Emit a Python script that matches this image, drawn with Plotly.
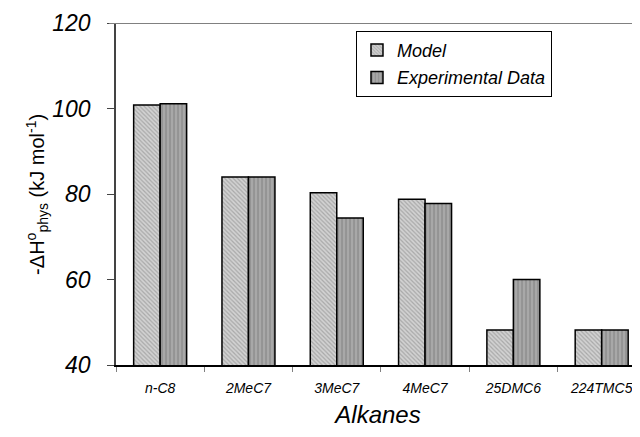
import plotly.graph_objects as go

categories = ["n-C8", "2MeC7", "3MeC7", "4MeC7", "25DMC6", "224TMC5"]
model_values = [100.8, 84.0, 80.3, 78.8, 48.2, 48.2]
experimental_values = [101.1, 84.0, 74.4, 77.8, 60.0, 48.2]
y_ticks = [40, 60, 80, 100, 120]

FONT = "Liberation Sans, Arial, sans-serif"

fig = go.Figure()
fig.add_trace(go.Bar(
    x=categories, y=model_values, name="Model", legendgroup="m",
    marker=dict(color="#d2d2d2", line=dict(color="black", width=1.5),
                pattern=dict(shape="\\", fgcolor="#808080", size=3, solidity=0.4)),
))
fig.add_trace(go.Bar(
    x=categories, y=experimental_values, name="Experimental Data", legendgroup="e",
    marker=dict(color="#a8a8a8", line=dict(color="black", width=1.5),
                pattern=dict(shape="|", fgcolor="#707070", size=4, solidity=0.35)),
))

fig.update_layout(
    width=632, height=429,
    margin=dict(l=108, r=0, t=15, b=72),
    plot_bgcolor="white", paper_bgcolor="white",
    barmode="group", bargap=0.4, bargroupgap=0,
    font=dict(family=FONT, color="black"),
    showlegend=True,
    legend=dict(x=0.458, y=0.977, xanchor="left", yanchor="top",
                bgcolor="white", bordercolor="black", borderwidth=1,
                font=dict(family=FONT, size=18, style="italic"), tracegroupgap=1,
                traceorder="grouped"),
    xaxis=dict(range=[-0.5, 5.434], showline=True, linecolor="black", linewidth=1.5,
               ticks="outside", tickson="boundaries", ticklen=5, tickcolor="gray",
               tickfont=dict(family=FONT, size=14, style="italic"), ticklabelstandoff=9,
               title=dict(text="Alkanes", font=dict(family=FONT, size=24, style="italic"), standoff=12),
               showgrid=False, fixedrange=True),
    yaxis=dict(range=[40, 120], tickvals=y_ticks, showline=True, linecolor="#444",
               linewidth=1.5, ticks="outside", ticklen=7, tickcolor="#444",
               tickfont=dict(family=FONT, size=23, style="italic"), ticklabelstandoff=12,
               showgrid=False, zeroline=False),
    annotations=[dict(
        text="-ΔH<sup>o</sup><sub>phys</sub> (kJ mol<sup>-1</sup>)",
        xref="paper", yref="paper", x=-0.151, y=0.5, textangle=-90,
        xanchor="center", yanchor="middle", showarrow=False,
        font=dict(family=FONT, size=20))],
    shapes=[dict(type="line", xref="paper", yref="y", x0=-0.013, x1=1, y0=120, y1=120,
                 line=dict(color="#808080", width=2))],
)

fig.write_html("out.html")
